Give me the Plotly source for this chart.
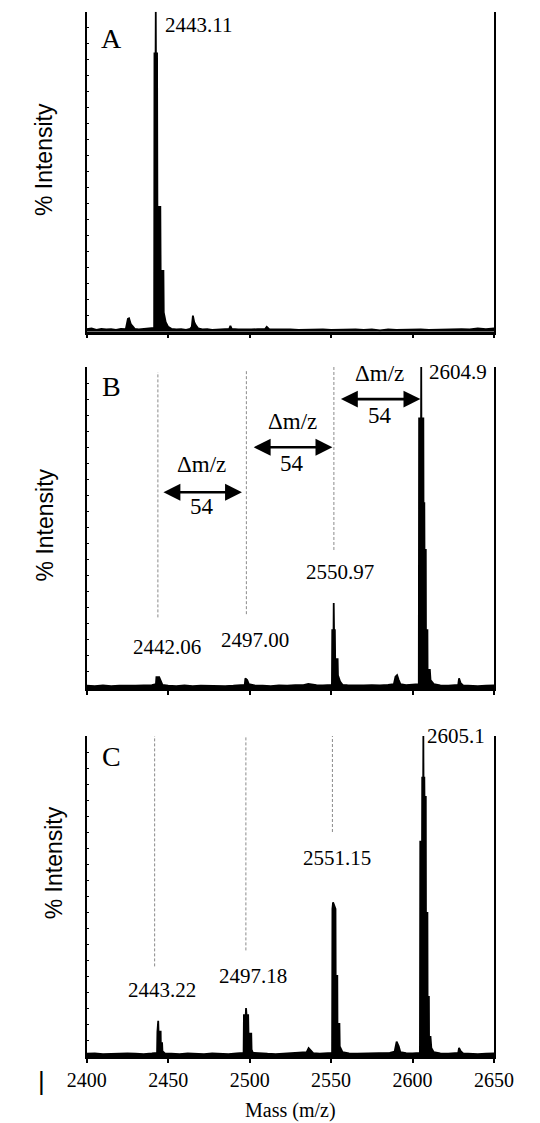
import plotly.graph_objects as go

# ---------------- data ----------------
A_mz = [2400, 2403, 2406, 2409, 2412, 2415, 2418, 2421, 2424, 2425.3, 2426, 2427, 2428, 2429.5,
        2432, 2435, 2438, 2440.5, 2441.4, 2441.6, 2442.3, 2442.4, 2442.5, 2443.2, 2443.4, 2445.2,
        2445.4, 2447.1, 2447.3, 2448.5, 2450, 2452, 2455, 2458, 2461, 2463.5, 2464.5, 2465.2, 2466,
        2467, 2468.5, 2471, 2474, 2477, 2480, 2484, 2487.5, 2488.2, 2489, 2493, 2497, 2501, 2505,
        2509.5, 2510.5, 2512, 2516, 2520, 2525, 2530, 2535, 2540, 2545, 2550, 2555, 2560, 2565,
        2570, 2575, 2580, 2585, 2590, 2595, 2600, 2605, 2610, 2615, 2620, 2625, 2630, 2635, 2640,
        2645, 2650]
A_int = [0.8, 1.0, 0.6, 0.9, 0.7, 0.8, 0.6, 0.9, 0.8, 4.0, 4.2, 2.5, 1.8, 0.9,
         0.7, 0.8, 0.9, 1.0, 1.2, 87, 87, 100, 87, 87, 39, 39,
         19, 19, 6, 3, 1.5, 0.9, 0.7, 0.8, 0.6, 0.9, 1.5, 5.0, 3.0,
         2.0, 1.0, 0.7, 0.8, 0.6, 0.7, 0.8, 0.9, 1.8, 0.9, 0.7, 0.6, 0.7, 0.8,
         0.8, 1.5, 0.8, 0.7, 0.6, 0.7, 0.6, 0.7, 0.6, 0.7, 0.6, 0.7, 0.6, 0.7,
         0.6, 0.7, 0.4, 0.7, 0.6, 0.7, 0.6, 0.7, 0.6, 0.7, 0.6, 0.7, 0.8, 0.7, 1.0,
         0.8, 1.0]

B_mz = [2400, 2405, 2410, 2415, 2420, 2425, 2430, 2435, 2440, 2442.5, 2442.8, 2444.5, 2445.5,
        2446.5, 2450, 2455, 2460, 2465, 2470, 2475, 2480, 2485, 2490, 2494, 2497, 2497.4, 2498.5,
        2499.5, 2503, 2508, 2513, 2518, 2523, 2528, 2533, 2536, 2538, 2541, 2545, 2548, 2550.5,
        2550.7, 2551.5, 2551.6, 2551.8, 2552.3, 2552.5, 2554, 2554.2, 2555.5, 2557, 2560, 2565,
        2570, 2575, 2580, 2585, 2588.5, 2589.5, 2590.5, 2591.5, 2592.5, 2596, 2600, 2603.8, 2604.0,
        2605.2, 2605.3, 2605.4, 2606.6, 2606.7, 2607.2, 2607.3, 2608.1, 2608.2, 2609.1, 2609.2,
        2610.6, 2611, 2613, 2617, 2622, 2626, 2628, 2628.5, 2629.5, 2631, 2635, 2640, 2645, 2650]
B_int = [0.7, 0.6, 0.8, 0.6, 0.7, 0.6, 0.7, 0.8, 0.9, 1.2, 3.4, 3.4, 2.0,
         1.0, 0.7, 0.6, 0.8, 0.6, 0.7, 0.6, 0.7, 0.6, 0.7, 0.8, 1.0, 3.0, 2.5,
         1.2, 0.8, 0.7, 0.6, 0.8, 0.7, 0.9, 0.9, 1.3, 1.1, 0.9, 0.8, 0.9, 1.0,
         18, 18, 26.5, 18, 18, 9, 9, 4, 2, 1.0, 0.9, 0.8,
         0.8, 0.9, 0.8, 1.0, 1.2, 3.5, 4.0, 2.5, 1.2, 0.9, 1.0, 1.2, 84,
         84, 100, 84, 84, 57.6, 57.6, 43, 43, 18, 18, 5.6,
         5.6, 2.5, 1.2, 0.8, 0.7, 0.8, 1.0, 3.0, 1.5, 0.8, 0.7, 0.6, 0.7, 0.8]

C_mz = [2400, 2405, 2410, 2415, 2420, 2425, 2430, 2435, 2440, 2443.2, 2443.4, 2443.9, 2444.1,
        2445.4, 2445.5, 2446.3, 2446.5, 2448, 2452, 2457, 2462, 2467, 2472, 2477, 2482, 2487,
        2492, 2496.3, 2496.5, 2497.6, 2497.8, 2498.1, 2499.1, 2499.3, 2501, 2501.2, 2502, 2506,
        2511, 2516, 2521, 2526, 2531, 2535, 2536.2, 2537.5, 2539, 2543, 2547, 2550.6, 2550.8,
        2551.2, 2552.7, 2552.8, 2553.8, 2553.9, 2555.1, 2555.3, 2557, 2561, 2566, 2571, 2576,
        2581, 2586, 2589, 2590.2, 2591.5, 2592.5, 2596, 2600, 2604.5, 2604.7, 2605.8, 2605.9,
        2606.5, 2606.6, 2606.7, 2607.2, 2607.3, 2608.1, 2608.2, 2609.1, 2609.2, 2610, 2610.1,
        2611, 2611.5, 2613, 2617, 2622, 2626, 2628, 2628.5, 2629.5, 2631, 2635, 2640, 2645, 2650]
C_int = [0.7, 0.8, 0.6, 0.7, 0.6, 0.8, 0.7, 0.6, 0.8, 1.0, 7.6, 11, 7.6,
         7.6, 4, 4, 1.5, 0.8, 0.7, 0.6, 0.8, 0.7, 0.6, 0.8, 0.7, 0.6,
         0.8, 1.0, 12.8, 12.8, 15, 12.8, 12.8, 7, 7, 2, 1.0, 0.8,
         0.7, 0.6, 0.7, 0.8, 1.0, 1.2, 2.5, 1.8, 0.9, 0.7, 0.8, 1.0, 46,
         48, 46, 25, 25, 10, 10, 3, 1.2, 0.8, 0.7, 0.8, 0.9,
         0.8, 1.0, 1.4, 4.5, 3.0, 1.2, 0.9, 0.8, 1.0, 67, 67, 87,
         87, 100, 87, 87, 81, 81, 44.7, 44.7, 18.5, 18.5, 6,
         6, 2.5, 1.2, 0.8, 0.7, 0.8, 1.0, 2.5, 1.5, 0.8, 0.7, 0.6, 0.7, 0.8]

# peak labels: (text, m/z position, % position)
A_labels = [("2443.11", 2468.8, 95.8)]
B_labels = [("2442.06", 2449.1, 12.9), ("2497.00", 2503.2, 15.0),
            ("2550.97", 2555.7, 36.0), ("2604.9", 2627.8, 98.4)]
C_labels = [("2443.22", 2446.2, 20.6), ("2497.18", 2502.0, 25.0),
            ("2551.15", 2553.7, 62.0), ("2605.1", 2626.5, 100.0)]

# dashed guide lines: (m/z, low %, high %)
B_guides = [(2443.7, 22, 98.4), (2498.0, 23, 99), (2551.7, 43, 100)]
C_guides = [(2441.7, 28, 100), (2497.7, 33, 100), (2550.8, 70, 100)]

# delta arrows in B: (m/z start, m/z end, arrow %, "Δm/z" %, "54" %)
B_arrows = [(2446.2, 2495.3, 61, 69.5, 56.5),
            (2501.6, 2550.8, 75, 83.0, 70.0),
            (2555.1, 2604.8, 90, 98.0, 85.0)]
delta_text = "Δm/z"
step_text = "54"

panel_letters = ["A", "B", "C"]
letter_y = [91.7, 94.0, 93.5]
x_ticks = [2400, 2450, 2500, 2550, 2600, 2650]

# ---------------- figure ----------------
W, H = 540, 1123


def xp(px):
    return px / W


def yp(py):
    return 1 - py / H


x0, x1 = xp(72), xp(512)
domains = [(yp(331.7), yp(11.7)), (yp(688), yp(367)), (yp(1056), yp(736))]

fig = go.Figure()
spectra = [(A_mz, A_int), (B_mz, B_int), (C_mz, C_int)]
for i, (mz, it) in enumerate(spectra):
    sfx = "" if i == 0 else str(i + 1)
    fig.add_trace(go.Scatter(x=mz, y=it, mode="lines", fill="tozeroy",
                             fillcolor="black", line=dict(color="black", width=1.8),
                             xaxis="x" + sfx, yaxis="y" + sfx, hoverinfo="skip",
                             showlegend=False))

for i, guides in ((1, B_guides), (2, C_guides)):
    sfx = str(i + 1)
    for gx, ylo, yhi in guides:
        fig.add_trace(go.Scatter(x=[gx, gx], y=[ylo, yhi], mode="lines",
                                 line=dict(color="#8a8a8a", width=1, dash="3px,2px"),
                                 xaxis="x" + sfx, yaxis="y" + sfx, hoverinfo="skip",
                                 showlegend=False))

serif = "Liberation Serif"
ann = []
for i, labels in enumerate([A_labels, B_labels, C_labels]):
    sfx = "" if i == 0 else str(i + 1)
    for t, lx, ly in labels:
        ann.append(dict(text=t, x=lx, y=ly, xref="x" + sfx, yref="y" + sfx, showarrow=False,
                        xanchor="center", yanchor="middle",
                        font=dict(family=serif, size=21, color="black")))
    ann.append(dict(text=panel_letters[i], x=2415, y=letter_y[i], xref="x" + sfx,
                    yref="y" + sfx, showarrow=False, xanchor="center", yanchor="middle",
                    font=dict(family=serif, size=28, color="black")))

for xs, xe, ya, yd, y54 in B_arrows:
    xt = (xs + xe) / 2
    ann.append(dict(text="", x=xe, y=ya, ax=xs, ay=ya, xref="x2", yref="y2", axref="x2",
                    ayref="y2", showarrow=True, arrowhead=2, arrowside="end+start",
                    arrowsize=1.3, arrowwidth=2.6, arrowcolor="black", standoff=0,
                    startstandoff=0))
    ann.append(dict(text=delta_text, x=xt, y=yd, xref="x2", yref="y2", showarrow=False,
                    xanchor="center", yanchor="middle",
                    font=dict(family=serif, size=23, color="black")))
    ann.append(dict(text=step_text, x=xt, y=y54, xref="x2", yref="y2", showarrow=False,
                    xanchor="center", yanchor="middle",
                    font=dict(family=serif, size=23, color="black")))

for (tx, ty) in [(26, 160), (27.5, 525), (37, 863)]:
    ann.append(dict(text="% Intensity", x=xp(tx), y=yp(ty), xref="paper", yref="paper",
                    textangle=-90, showarrow=False, xanchor="center", yanchor="middle",
                    font=dict(family="Liberation Sans", size=23, color="black")))
ann.append(dict(text="Mass (m/z)", x=xp(292), y=yp(1110), xref="paper", yref="paper",
                showarrow=False, xanchor="center", yanchor="middle",
                font=dict(family=serif, size=20, color="black")))
ann.append(dict(text="|", x=xp(23.5), y=yp(1081), xref="paper", yref="paper",
                showarrow=False, xanchor="center", yanchor="middle",
                font=dict(family="Liberation Sans", size=26, color="black")))

layout = dict(width=W, height=H, margin=dict(l=0, r=0, t=0, b=0),
              paper_bgcolor="white", plot_bgcolor="white", annotations=ann,
              showlegend=False, hovermode=False)
for i in range(3):
    sfx = "" if i == 0 else str(i + 1)
    layout["xaxis" + sfx] = dict(domain=[x0, x1], range=[2400, 2650], anchor="y" + sfx,
                                 tickvals=x_ticks, ticks="outside", ticklen=4,
                                 tickwidth=1.5, tickcolor="black",
                                 showline=True, linecolor="black", linewidth=2.5,
                                 showgrid=False, zeroline=False,
                                 showticklabels=(i == 2),
                                 tickfont=dict(family=serif, size=20, color="black"))
    layout["yaxis" + sfx] = dict(domain=list(domains[i]), range=[0, 100], anchor="x" + sfx,
                                 dtick=5, ticks="inside", ticklen=3, tickwidth=1.2,
                                 tickcolor="black", showline=True, linecolor="black",
                                 linewidth=1.5, mirror=True, showgrid=False, zeroline=False,
                                 showticklabels=False)
fig.update_layout(**layout)
fig.write_html("out.html", config={"displayModeBar": False},
               post_script="document.body.style.margin='0';"
                           "document.body.style.overflow='hidden';")
